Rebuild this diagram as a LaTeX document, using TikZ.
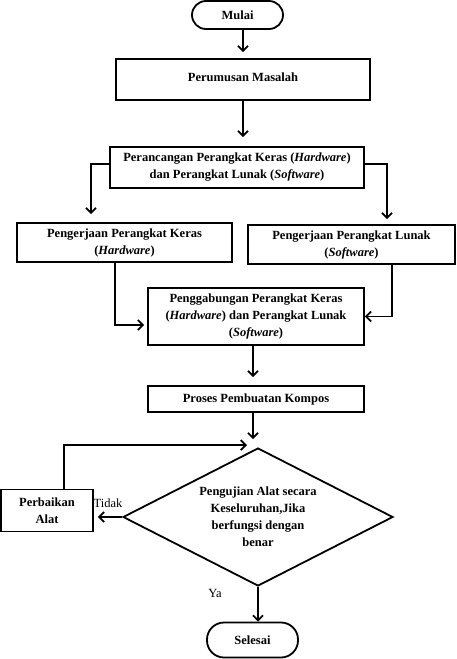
\documentclass[tikz,border=0pt]{standalone}
\usepackage{fontspec}
\setmainfont{Liberation Serif}
\usetikzlibrary{shapes.geometric,arrows.meta}

\begin{document}
\begin{tikzpicture}[x=1pt,y=-1pt,line width=1.8pt,>={Straight Barb[length=5pt,width=10pt]}]
\tikzstyle{kotak}=[draw, rectangle, align=center, inner sep=2pt, font=\fontsize{12.5}{17}\selectfont\bfseries]
\tikzstyle{terminal}=[kotak, rounded corners=14pt]
\tikzstyle{keputusan}=[draw, diamond, aspect=2, align=center, inner sep=0pt, font=\fontsize{12.5}{17}\selectfont\bfseries]
\tikzstyle{teks}=[font=\fontsize{12.5}{17}\selectfont]

\useasboundingbox (0,0) rectangle (456,659);

\node[terminal, minimum width=91pt, minimum height=28pt] (mulai) at (237.5,15) {Mulai};
\node[kotak, minimum width=254pt, minimum height=41pt] (rumus) at (243,79.5) {\raisebox{5pt}{Perumusan Masalah}};
\node[kotak, minimum width=254pt, minimum height=41pt] (ranc) at (237,167.5)
    {Perancangan Perangkat Keras (\textit{Hardware})\\ dan Perangkat Lunak (\textit{Software})};
\node[kotak, minimum width=215pt, minimum height=39pt] (keras) at (124.5,242.5)
    {Pengerjaan Perangkat Keras\\ (\textit{Hardware})};
\node[kotak, minimum width=207pt, minimum height=39pt] (lunak) at (351.5,244.5)
    {Pengerjaan Perangkat Lunak\\ (\textit{Software})};
\node[kotak, minimum width=216pt, minimum height=57pt] (gabung) at (256,316.5)
    {Penggabungan Perangkat Keras\\ (\textit{Hardware}) dan Perangkat Lunak\\ (\textit{Software})};
\node[kotak, minimum width=216pt, minimum height=26pt] (proses) at (256,399) {Proses Pembuatan Kompos};
\node[keputusan, minimum width=270pt, minimum height=138pt] (uji) at (258,517)
    {Pengujian Alat secara\\ Keseluruhan,Jika\\ berfungsi dengan\\ benar};
\node[kotak, minimum width=92pt, minimum height=42pt] (perbaikan) at (47,510.5) {Perbaikan\\ Alat};
\node[terminal, minimum width=91pt, minimum height=35pt, rounded corners=17pt] (selesai) at (252.5,640) {Selesai};
\node[teks] (ya) at (215,593) {Ya};

\draw[->, shorten >=6pt] (rumus.north |- mulai.south) -- (rumus.north);
\draw[->, shorten >=9pt] (rumus.south) -- (rumus.south |- ranc.north);
\draw[->, shorten >=8pt] ([yshift=3.5pt]ranc.west) -| ([xshift=-33.5pt]keras.north);
\draw[->, shorten >=5pt] ([yshift=3.5pt]ranc.east) -| ([xshift=35.5pt]lunak.north);
\draw[->, shorten >=3pt] ([xshift=-9.5pt]keras.south) |- ([yshift=-8.5pt]gabung.west);
\draw[->] ([xshift=40.5pt]lunak.south) |- (gabung.east);
\draw[->, shorten >=8pt] ([xshift=-3pt]gabung.south) -- ([xshift=-3pt]proses.north);
\draw[->, shorten >=8pt] ([xshift=-3pt]proses.south) -- ([xshift=-3pt]proses.south |- uji.north);
\draw[->] ([xshift=17pt]perbaikan.north) |- ([xshift=-11pt, yshift=2pt]uji.north);
\draw[->, shorten >=4pt] (uji.west) -- (uji.west -| perbaikan.east)
    node [teks, midway, above=5pt] {Tidak};
\draw[->] (uji.south) -- (uji.south |- selesai.north);

\end{tikzpicture}
\end{document}
